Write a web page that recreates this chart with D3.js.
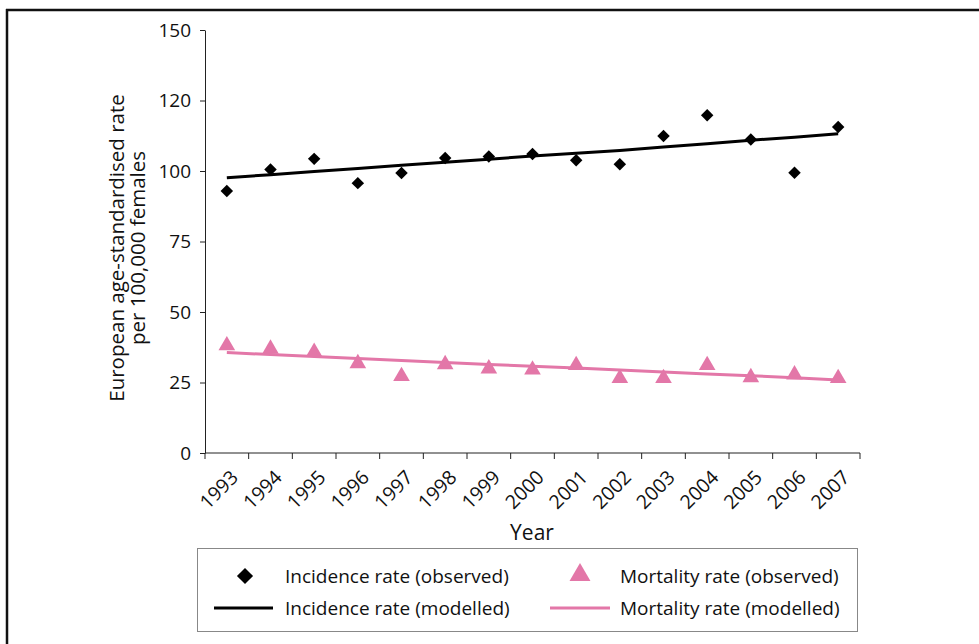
<!DOCTYPE html>
<html>
<head>
<meta charset="utf-8">
<script src="https://cdn.jsdelivr.net/npm/d3@7"></script>
<style>
  html, body { margin: 0; padding: 0; background: #fff; }
  svg { display: block; }
  text { font-family: "Open Sans", "Noto Sans", sans-serif; fill: #111; }
</style>
</head>
<body>
<svg id="chart" width="979" height="644"></svg>
<script>
// ---- Data ----
const years = ["1993","1994","1995","1996","1997","1998","1999","2000","2001","2002","2003","2004","2005","2006","2007"];
const incidenceObserved = [92.9, 100.5, 104.3, 95.7, 99.3, 104.6, 105.1, 106.0, 103.8, 102.4, 112.4, 119.8, 111.2, 99.4, 115.6];
const incidenceModelled = [97.6, 98.7, 99.8, 100.9, 102.0, 103.1, 104.2, 105.3, 106.3, 107.3, 108.5, 109.7, 110.9, 112.0, 113.2];
const mortalityObserved = [38.1, 36.9, 35.8, 31.8, 27.2, 31.4, 29.9, 29.5, 31.1, 26.5, 26.5, 31.1, 26.8, 27.8, 26.5];
const mortalityModelled = [35.6, 34.9, 34.2, 33.5, 32.8, 32.1, 31.4, 30.8, 30.1, 29.4, 28.7, 28.0, 27.4, 26.7, 25.9];
const yTickValues = [0, 25, 50, 75, 100, 125, 150];
const yTickLabels = ["0", "25", "50", "75", "100", "120", "150"];
const legendLabels = ["Incidence rate (observed)", "Mortality rate (observed)", "Incidence rate (modelled)", "Mortality rate (modelled)"];

const pink = "#e377a8";
const svg = d3.select("#chart");

// Frame lines (top and left)
svg.append("line").attr("x1", 6).attr("x2", 979).attr("y1", 10).attr("y2", 10)
  .attr("stroke", "#111").attr("stroke-width", 2.5);
svg.append("line").attr("x1", 7).attr("x2", 7).attr("y1", 9).attr("y2", 644)
  .attr("stroke", "#111").attr("stroke-width", 2.5);

const plotLeft = 205, plotRight = 860, plotTop = 30, plotBottom = 453;
const x = d3.scaleBand().domain(years).range([plotLeft, plotRight]).padding(0);
const y = d3.scaleLinear().domain([0, 150]).range([plotBottom, plotTop]);
const cx = d => x(d) + x.bandwidth() / 2;

// Y axis
const yAxis = d3.axisLeft(y).tickValues(yTickValues)
  .tickFormat((d, i) => yTickLabels[i]).tickSize(5).tickPadding(9).tickSizeOuter(0);
const gy = svg.append("g").attr("transform", `translate(${plotLeft},0)`).call(yAxis);
gy.select(".domain").attr("stroke", "#222");
gy.selectAll(".tick line").attr("stroke", "#222");
gy.selectAll("text").attr("font-size", 19).attr("font-family", "Open Sans, sans-serif").attr("fill", "#111");

// X axis with ticks between categories
const gx = svg.append("g").attr("transform", `translate(0,${plotBottom})`);
gx.append("line").attr("x1", plotLeft).attr("x2", plotRight).attr("y1", 0).attr("y2", 0).attr("stroke", "#222");
const boundaries = years.map(d => x(d)).concat([plotRight]);
gx.selectAll("line.tk").data(boundaries).join("line").attr("class", "tk")
  .attr("x1", d => d).attr("x2", d => d).attr("y1", 0).attr("y2", 6).attr("stroke", "#222");
gx.selectAll("text.yl").data(years).join("text").attr("class", "yl")
  .attr("transform", d => `translate(${cx(d) + 3},${16}) rotate(-45)`)
  .attr("text-anchor", "end").attr("dy", "0.7em")
  .attr("font-size", 19.5).text(d => d);

// Axis titles
svg.append("text").attr("x", 532).attr("y", 540).attr("text-anchor", "middle")
  .attr("font-size", 21).text("Year");
const yt = svg.append("text").attr("transform", "translate(124,248) rotate(-90)")
  .attr("text-anchor", "middle").attr("font-size", 20.5);
yt.append("tspan").attr("x", 0).attr("dy", 0).text("European age-standardised rate");
yt.append("tspan").attr("x", 0).attr("dy", 21).text("per 100,000 females");

// Lines
const lineGen = d3.line().x((d, i) => cx(years[i])).y(d => y(d));
svg.append("path").datum(mortalityModelled).attr("d", lineGen)
  .attr("fill", "none").attr("stroke", pink).attr("stroke-width", 3);
svg.append("path").datum(incidenceModelled).attr("d", lineGen)
  .attr("fill", "none").attr("stroke", "#000").attr("stroke-width", 3);

// Markers
const diamond = d3.symbol().type(d3.symbolSquare).size(78);
const triangle = d3.symbol().type(d3.symbolTriangle).size(120);
svg.selectAll("path.tri").data(mortalityObserved).join("path").attr("class", "tri")
  .attr("d", triangle)
  .attr("transform", (d, i) => `translate(${cx(years[i])},${y(d)})`)
  .attr("fill", pink);
svg.selectAll("path.dia").data(incidenceObserved).join("path").attr("class", "dia")
  .attr("d", diamond)
  .attr("transform", (d, i) => `translate(${cx(years[i])},${y(d)}) rotate(45)`)
  .attr("fill", "#000");

// Legend
svg.append("rect").attr("x", 197.5).attr("y", 548.5).attr("width", 660).attr("height", 83)
  .attr("fill", "none").attr("stroke", "#888").attr("stroke-width", 1);
const lg = svg.append("g");
lg.append("path").attr("d", d3.symbol().type(d3.symbolSquare).size(130))
  .attr("transform", "translate(245,576) rotate(45)").attr("fill", "#000");
lg.append("path").attr("d", d3.symbol().type(d3.symbolTriangle).size(190))
  .attr("transform", "translate(580,575)").attr("fill", pink);
lg.append("line").attr("x1", 214).attr("x2", 273).attr("y1", 608).attr("y2", 608)
  .attr("stroke", "#000").attr("stroke-width", 3);
lg.append("line").attr("x1", 550).attr("x2", 610).attr("y1", 608).attr("y2", 608)
  .attr("stroke", pink).attr("stroke-width", 3);
const lpos = [[285, 576], [620, 576], [285, 608], [620, 608]];
lg.selectAll("text").data(legendLabels).join("text")
  .attr("x", (d, i) => lpos[i][0]).attr("y", (d, i) => lpos[i][1])
  .attr("dy", "0.35em").attr("font-size", 19).text(d => d);
</script>
</body>
</html>
